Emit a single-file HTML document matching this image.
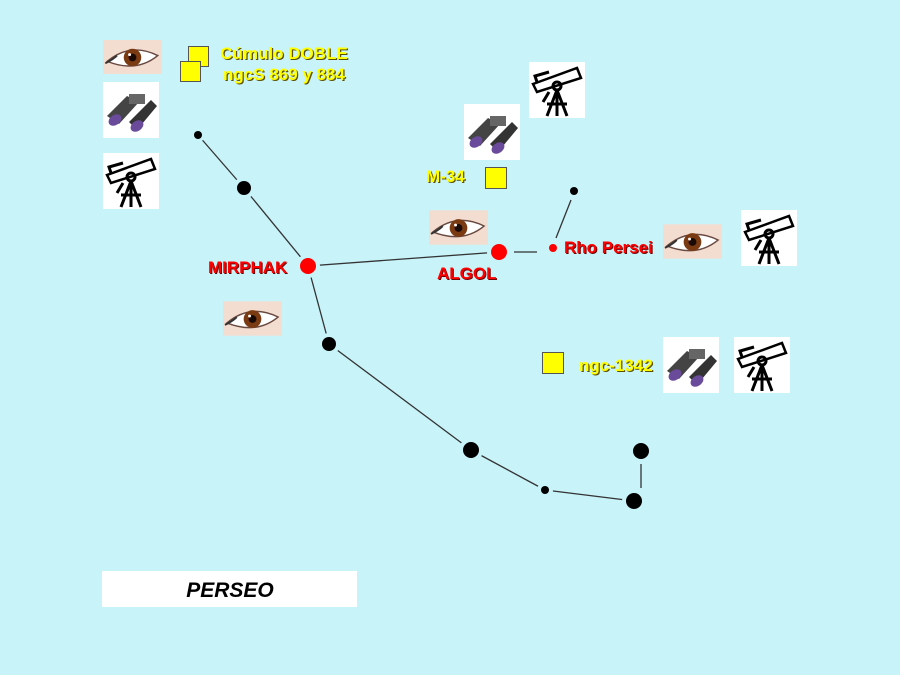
<!DOCTYPE html>
<html><head><meta charset="utf-8"><style>
body{margin:0;background:#c8f3f9;}
svg{display:block}
text{font-family:"Liberation Sans",sans-serif;font-weight:bold;font-size:17px;}
.ys{fill:#5a5000;}
.y{fill:#ffff00;}
.rs{fill:#700000;}
.r{fill:#ff0000;}
</style></head><body>
<svg width="900" height="675" viewBox="0 0 900 675" xmlns="http://www.w3.org/2000/svg">
<defs>
<symbol id="eye" viewBox="0 0 60 35">
<rect width="60" height="35" fill="#f3ddd0"/>
<path d="M4 22 Q28 2 56 16 Q34 34 4 22Z" fill="#fff" stroke="#6a4a40" stroke-width="1.5"/>
<circle cx="30" cy="18" r="9" fill="#7a3a12"/>
<circle cx="30" cy="18" r="4" fill="#1a0a05"/>
<circle cx="27" cy="15" r="1.5" fill="#fff"/>
<path d="M2 24 Q10 20 14 16" stroke="#333" stroke-width="2" fill="none"/>
</symbol>
<symbol id="bino" viewBox="0 0 56 56">
<rect width="56" height="56" fill="#fff"/>
<path d="M4 34 L24 14 L36 20 L16 42Z" fill="#444"/>
<path d="M26 40 L48 18 L54 24 L34 48Z" fill="#333"/>
<ellipse cx="12" cy="38" rx="7" ry="5" fill="#6a4a9a" transform="rotate(-35 12 38)"/>
<ellipse cx="34" cy="44" rx="7" ry="5" fill="#6a4a9a" transform="rotate(-35 34 44)"/>
<rect x="26" y="12" width="16" height="10" fill="#666"/>
</symbol>
<symbol id="tele" viewBox="0 0 56 56">
<rect width="56" height="56" fill="#fff"/>
<g stroke="#000" stroke-width="3" fill="none">
<path d="M4 22 L48 6 L52 16 L8 30Z" stroke-width="2.5"/>
<path d="M8 20 L6 14 L20 10"/>
<circle cx="28" cy="24" r="4"/>
<path d="M28 28 L18 54 M28 28 L28 54 M28 28 L38 54 M18 42 L38 42 M20 30 L14 40"/>
</g>
</symbol>
</defs>
<g stroke="#333" stroke-width="1.3">
<line x1="198" y1="135" x2="244" y2="188"/>
<line x1="244" y1="188" x2="308" y2="266"/>
<line x1="308" y1="266" x2="499" y2="252"/>
<line x1="514" y1="252" x2="537" y2="252"/>
<line x1="556" y1="238" x2="571" y2="200"/>
<line x1="308" y1="266" x2="329" y2="344"/>
<line x1="329" y1="344" x2="471" y2="450"/>
<line x1="471" y1="450" x2="545" y2="490"/>
<line x1="545" y1="490" x2="634" y2="501"/>
<line x1="641" y1="464" x2="641" y2="488"/>
</g>
<g fill="#c8f3f9">
<circle cx="198" cy="135" r="7"/>
<circle cx="244" cy="188" r="11"/>
<circle cx="329" cy="344" r="11"/>
<circle cx="471" cy="450" r="12"/>
<circle cx="545" cy="490" r="8"/>
<circle cx="634" cy="501" r="12"/>
<circle cx="641" cy="451" r="12"/>
<circle cx="574" cy="191" r="8"/>
<circle cx="308" cy="266" r="12"/>
<circle cx="499" cy="252" r="12"/>
<circle cx="553" cy="248" r="8"/>
</g>
<g fill="#000">
<circle cx="198" cy="135" r="4"/>
<circle cx="244" cy="188" r="7"/>
<circle cx="329" cy="344" r="7"/>
<circle cx="471" cy="450" r="8"/>
<circle cx="545" cy="490" r="4"/>
<circle cx="634" cy="501" r="8"/>
<circle cx="641" cy="451" r="8"/>
<circle cx="574" cy="191" r="4"/>
</g>
<g fill="#f00">
<circle cx="308" cy="266" r="8"/>
<circle cx="499" cy="252" r="8"/>
<circle cx="553" cy="248" r="4"/>
</g>
<use href="#eye" x="103" y="40" width="59" height="34"/>
<use href="#bino" x="103" y="82" width="56" height="56"/>
<use href="#tele" x="103" y="153" width="56" height="56"/>
<use href="#tele" x="529" y="62" width="56" height="56"/>
<use href="#bino" x="464" y="104" width="56" height="56"/>
<use href="#eye" x="429" y="210" width="59" height="35"/>
<use href="#eye" x="663" y="224" width="59" height="35"/>
<use href="#tele" x="741" y="210" width="56" height="56"/>
<use href="#eye" x="223" y="301" width="59" height="35"/>
<use href="#bino" x="663" y="337" width="56" height="56"/>
<use href="#tele" x="734" y="337" width="56" height="56"/>
<g fill="#ffff00" stroke="#555" stroke-width="1">
<rect x="188.5" y="46.5" width="20" height="20"/>
<rect x="180.5" y="61.5" width="20" height="20"/>
<rect x="485.5" y="167.5" width="21" height="21"/>
<rect x="542.5" y="352.5" width="21" height="21"/>
</g>
<g class="ys" transform="translate(1.2,1.2)">
<text x="284" y="59" text-anchor="middle">Cúmulo DOBLE</text>
<text x="284" y="80" text-anchor="middle">ngcS 869 y 884</text>
<text x="426" y="182">M-34</text>
<text x="579" y="371">ngc-1342</text>
</g>
<g class="y">
<text x="284" y="59" text-anchor="middle">Cúmulo DOBLE</text>
<text x="284" y="80" text-anchor="middle">ngcS 869 y 884</text>
<text x="426" y="182">M-34</text>
<text x="579" y="371">ngc-1342</text>
</g>
<g class="rs" transform="translate(1,1)">
<text x="208" y="273">MIRPHAK</text>
<text x="437" y="279">ALGOL</text>
<text x="564" y="253">Rho Persei</text>
</g>
<g class="r">
<text x="208" y="273">MIRPHAK</text>
<text x="437" y="279">ALGOL</text>
<text x="564" y="253">Rho Persei</text>
</g>
<rect x="102" y="571" width="255" height="36" fill="#fff"/>
<text x="230" y="597" text-anchor="middle" font-style="italic" style="font-size:21px" fill="#000">PERSEO</text>
</svg>
</body></html>
